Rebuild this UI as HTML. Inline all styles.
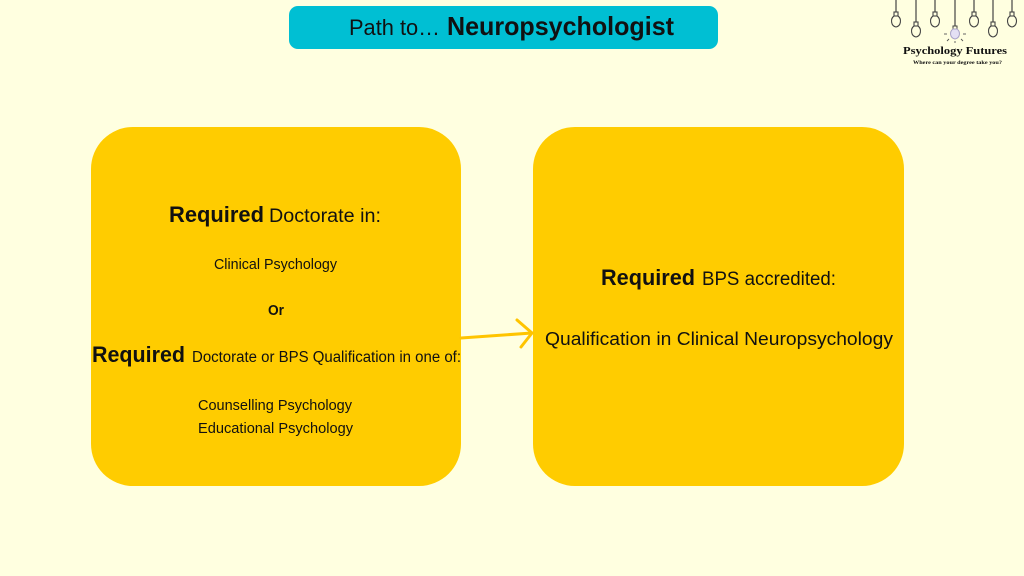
<!DOCTYPE html>
<html>
<head>
<meta charset="utf-8">
<style>
  html,body{margin:0;padding:0;background:#FFFFE0;}
  svg{display:block;}
  text{font-family:"Liberation Sans",sans-serif;fill:#111;}
  .b{font-weight:bold;}
  .serif{font-family:"Liberation Serif",serif;font-weight:bold;}
</style>
</head>
<body>
<svg width="1024" height="576" viewBox="0 0 1024 576" xmlns="http://www.w3.org/2000/svg">
  <rect x="0" y="0" width="1024" height="576" fill="#FFFFE0"/>

  <!-- Title -->
  <rect x="289" y="6" width="429" height="43" rx="9" fill="#00BFD3"/>
  <text x="349" y="35" font-size="22" textLength="91" lengthAdjust="spacingAndGlyphs">Path to…</text>
  <text x="447" y="35" font-size="26" class="b" textLength="227" lengthAdjust="spacingAndGlyphs">Neuropsychologist</text>

  <!-- Logo -->
  <g stroke="#444" stroke-width="1.2" fill="none">
    <line x1="896" y1="0" x2="896" y2="12"/>
    <line x1="916" y1="0" x2="916" y2="22"/>
    <line x1="935" y1="0" x2="935" y2="12"/>
    <line x1="955" y1="0" x2="955" y2="26"/>
    <line x1="974" y1="0" x2="974" y2="12"/>
    <line x1="993" y1="0" x2="993" y2="22"/>
    <line x1="1012" y1="0" x2="1012" y2="12"/>
  </g>
  <g stroke="#444" stroke-width="1.1" fill="none">
    <!-- bulbs: socket + globe -->
    <g transform="translate(896,12)"><rect x="-2" y="0" width="4" height="4"/><path d="M-2,4 C-6,7 -5,14 0,15 C5,14 6,7 2,4"/></g>
    <g transform="translate(916,22)"><rect x="-2" y="0" width="4" height="4"/><path d="M-2,4 C-6,7 -5,14 0,15 C5,14 6,7 2,4"/></g>
    <g transform="translate(935,12)"><rect x="-2" y="0" width="4" height="4"/><path d="M-2,4 C-6,7 -5,14 0,15 C5,14 6,7 2,4"/></g>
    <g transform="translate(974,12)"><rect x="-2" y="0" width="4" height="4"/><path d="M-2,4 C-6,7 -5,14 0,15 C5,14 6,7 2,4"/></g>
    <g transform="translate(993,22)"><rect x="-2" y="0" width="4" height="4"/><path d="M-2,4 C-6,7 -5,14 0,15 C5,14 6,7 2,4"/></g>
    <g transform="translate(1012,12)"><rect x="-2" y="0" width="4" height="4"/><path d="M-2,4 C-6,7 -5,14 0,15 C5,14 6,7 2,4"/></g>
  </g>
  <g transform="translate(955,26)">
    <rect x="-2" y="0" width="4" height="3" fill="none" stroke="#444" stroke-width="1"/>
    <path d="M-2,3 C-6,6 -5,12 0,13 C5,12 6,6 2,3 Z" fill="#E4E0F4" stroke="#A9A3C8" stroke-width="1"/>
    <g stroke="#555" stroke-width="0.9">
      <line x1="-8" y1="8" x2="-11" y2="8"/>
      <line x1="8" y1="8" x2="11" y2="8"/>
      <line x1="-6" y1="13" x2="-8" y2="15"/>
      <line x1="6" y1="13" x2="8" y2="15"/>
      <line x1="0" y1="15" x2="0" y2="17"/>
    </g>
  </g>
  <text x="903" y="54" font-size="11" class="serif" textLength="104" lengthAdjust="spacingAndGlyphs">Psychology Futures</text>
  <text x="913" y="64" font-size="5.5" class="serif" textLength="89" lengthAdjust="spacingAndGlyphs">Where can your degree take you?</text>

  <!-- Boxes -->
  <rect x="91" y="127" width="370" height="359" rx="42" fill="#FFCC00"/>
  <rect x="533" y="127" width="371" height="359" rx="42" fill="#FFCC00"/>

  <!-- Arrow -->
  <g stroke="#FFC400" stroke-width="3" fill="none" stroke-linecap="round" stroke-linejoin="round">
    <path d="M461,338 L532,333"/>
    <path d="M517,320 L532,333 L521,347"/>
  </g>

  <!-- Box 1 text -->
  <text x="169" y="222" font-size="22.5" class="b" textLength="95" lengthAdjust="spacingAndGlyphs">Required</text>
  <text x="269" y="222" font-size="19" textLength="112" lengthAdjust="spacingAndGlyphs">Doctorate in:</text>
  <text x="214" y="269" font-size="14.5" textLength="123" lengthAdjust="spacingAndGlyphs">Clinical Psychology</text>
  <text x="268" y="315" font-size="14.5" class="b" textLength="16" lengthAdjust="spacingAndGlyphs">Or</text>
  <text x="92" y="362" font-size="22.5" class="b" textLength="93" lengthAdjust="spacingAndGlyphs">Required</text>
  <text x="192" y="362" font-size="15.5" textLength="269" lengthAdjust="spacingAndGlyphs">Doctorate or BPS Qualification in one of:</text>
  <text x="198" y="410" font-size="14.5" textLength="154" lengthAdjust="spacingAndGlyphs">Counselling Psychology</text>
  <text x="198" y="433" font-size="14.5" textLength="155" lengthAdjust="spacingAndGlyphs">Educational Psychology</text>

  <!-- Box 2 text -->
  <text x="601" y="285" font-size="22.5" class="b" textLength="94" lengthAdjust="spacingAndGlyphs">Required</text>
  <text x="702" y="285" font-size="19" textLength="134" lengthAdjust="spacingAndGlyphs">BPS accredited:</text>
  <text x="545" y="345" font-size="18" textLength="348" lengthAdjust="spacingAndGlyphs">Qualification in Clinical Neuropsychology</text>
</svg>
</body>
</html>
